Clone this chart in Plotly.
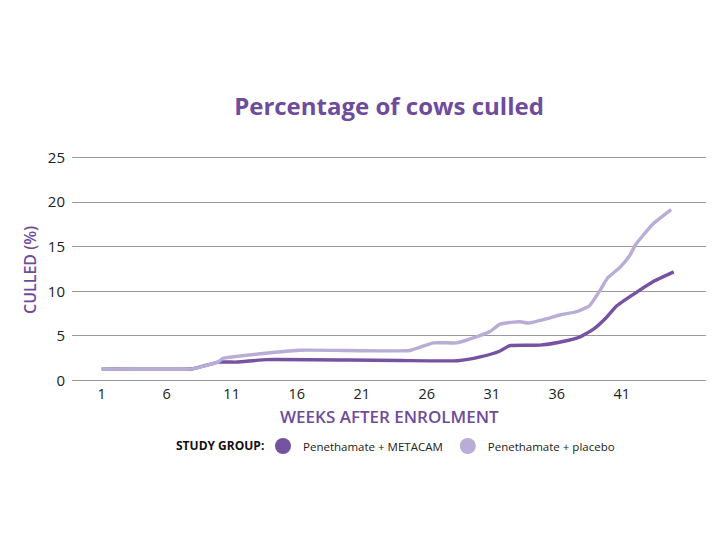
import plotly.graph_objects as go

# =====================================
# DATA
# =====================================

weeks_metacam = [1, 8, 10, 11.4, 13.7, 20, 24, 28.4, 30.1, 31.6, 32.4, 34.7,
                 36.2, 37.8, 38.8, 39.8, 40.6, 41.9, 43.4, 45]
culled_metacam = [1.3, 1.3, 2.05, 2.05, 2.33, 2.28, 2.22, 2.2, 2.63, 3.27, 3.9,
                  3.95, 4.28, 4.88, 5.71, 7.03, 8.34, 9.66, 11.08, 12.18]

weeks_placebo = [1, 8, 10, 10.3, 16.2, 24.7, 26.5, 28.3, 29.8, 30.9, 31.6,
                 32.7, 33.2, 33.8, 35.2, 36.3, 37.5, 38.5, 39.3, 39.9, 40.9,
                 41.6, 42.1, 43.4, 44.8]
culled_placebo = [1.3, 1.3, 2.1, 2.45, 3.38, 3.35, 4.21, 4.21, 4.88, 5.52, 6.28,
                  6.54, 6.58, 6.43, 6.91, 7.36, 7.7, 8.34, 10.03, 11.46, 12.74,
                  13.98, 15.3, 17.55, 19.16]

x_ticks = [1, 6, 11, 16, 21, 26, 31, 36, 41]
y_ticks = [0, 5, 10, 15, 20, 25]

DARK = "#7652a2"
LIGHT = "#b9acd6"
TITLE_PURPLE = "#6e4c9c"
FONT = "Open Sans"

# page has an 8px body margin, so the figure is 8px smaller
W, H = 719, 537
PLOT_L, PLOT_R = 64, 698
PLOT_T, PLOT_B = 147, 375


def px_x(x):
    return (x - 8 - PLOT_L) / (PLOT_R - PLOT_L)


def px_y(y):
    return (PLOT_B - (y - 8)) / (PLOT_B - PLOT_T)


# =====================================
# FIGURE
# =====================================

fig = go.Figure()

fig.add_trace(
    go.Scatter(
        x=weeks_metacam,
        y=culled_metacam,
        mode="lines",
        showlegend=False,
        line=dict(color=DARK, width=3.4, shape="spline", smoothing=0.4),
    )
)

fig.add_trace(
    go.Scatter(
        x=weeks_placebo,
        y=culled_placebo,
        mode="lines",
        showlegend=False,
        line=dict(color=LIGHT, width=3.4, shape="spline", smoothing=0.4),
    )
)

# legend entries shown as filled circles
fig.add_trace(
    go.Scatter(
        x=[None], y=[None], mode="markers", name="Penethamate + METACAM",
        marker=dict(color=DARK, size=18, symbol="circle"),
    )
)
fig.add_trace(
    go.Scatter(
        x=[None], y=[None], mode="markers", name="Penethamate + placebo",
        marker=dict(color=LIGHT, size=18, symbol="circle"),
    )
)

fig.update_layout(
    width=W,
    height=H,
    template="plotly_white",
    plot_bgcolor="white",
    paper_bgcolor="white",
    margin=dict(l=PLOT_L, r=W - PLOT_R, t=PLOT_T, b=H - PLOT_B, autoexpand=False),
    font=dict(family=FONT, size=14, color="#222222"),
    title=dict(
        text="<b>Percentage of cows culled</b>",
        x=px_x(389),
        xref="paper",
        xanchor="center",
        yref="container",
        y=1 - (107 - 8) / H,
        yanchor="middle",
        font=dict(size=24, color=TITLE_PURPLE, family=FONT),
    ),
    legend=dict(
        orientation="h",
        x=px_x(263),
        xanchor="left",
        y=px_y(446),
        yanchor="middle",
        font=dict(size=11.5, color="#222222"),
        itemwidth=30,
        tracegroupgap=0,
    ),
    annotations=[
        dict(
            text="<b>STUDY GROUP:</b>",
            xref="paper", yref="paper",
            x=px_x(266), y=px_y(445),
            xanchor="right", yanchor="middle",
            showarrow=False,
            font=dict(size=12, color="#111111", family=FONT),
        ),
        dict(
            text="WEEKS AFTER ENROLMENT",
            xref="paper", yref="paper",
            x=px_x(389), y=px_y(416),
            xanchor="center", yanchor="middle",
            showarrow=False,
            font=dict(size=17, color=TITLE_PURPLE, family=FONT, weight=600),
        ),
        dict(
            text="CULLED (%)",
            xref="paper", yref="paper",
            x=px_x(30), y=px_y(270),
            xanchor="center", yanchor="middle",
            textangle=-90,
            showarrow=False,
            font=dict(size=16, color=TITLE_PURPLE, family=FONT, weight=600),
        ),
    ],
)

fig.update_xaxes(
    range=[-1.28, 47.48],
    tickvals=x_ticks,
    showgrid=False,
    zeroline=False,
    showline=False,
    ticks="",
    ticklen=0,
    automargin=False,
    ticklabelstandoff=0,
    tickfont=dict(size=14.5, color="#222222"),
)

fig.update_yaxes(
    range=[-0.3, 25.3],
    tickvals=y_ticks,
    showgrid=True,
    gridcolor="#9a9a9a",
    gridwidth=1.2,
    zeroline=False,
    showline=False,
    ticks="",
    automargin=False,
    ticklabelstandoff=6,
    tickfont=dict(size=15, color="#222222"),
)

fig.write_html("out.html")
